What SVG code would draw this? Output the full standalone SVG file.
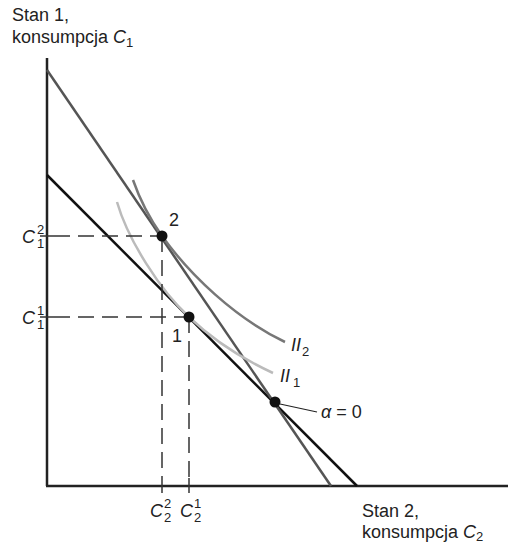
<svg xmlns="http://www.w3.org/2000/svg" width="508" height="544" viewBox="0 0 508 544">
<style>
text{font-family:"Liberation Sans",Arial,sans-serif;font-size:18px;fill:#222}
.it{font-style:italic}
.sm{font-size:13px}
.axis{stroke:#222;stroke-width:2.5;fill:none}
.dash{stroke:#333;stroke-width:1.5;stroke-dasharray:16 8;fill:none}
.tick{stroke:#333;stroke-width:1.5}
.dot{fill:#111}
</style>
<rect width="508" height="544" fill="#fff"/>
<g id="axes">
<line class="axis" x1="47" y1="58" x2="47" y2="486"/>
<line class="axis" x1="46" y1="486" x2="508" y2="486"/>
</g>
<g id="connectors">
<line x1="47" y1="175" x2="357" y2="486" stroke="#111" stroke-width="2.5"/>
<line x1="47" y1="70" x2="331" y2="486" stroke="#555" stroke-width="2.5"/>
<path d="M117,202 C128,240 160,290 189,317 C215,342 245,360 273,373" stroke="#bbb" stroke-width="2.5" fill="none"/>
<path d="M133,180 C140,200 152,222 162,236 C190,275 235,318 285,342" stroke="#777" stroke-width="2.5" fill="none"/>
<line class="dash" x1="54" y1="236" x2="162" y2="236"/>
<line class="dash" x1="54" y1="317" x2="189" y2="317"/>
<line class="dash" x1="162" y1="236" x2="162" y2="478"/>
<line class="dash" x1="189" y1="317" x2="189" y2="478"/>
<line class="tick" x1="40" y1="236" x2="54" y2="236"/>
<line class="tick" x1="40" y1="317" x2="54" y2="317"/>
<line class="tick" x1="162" y1="478" x2="162" y2="493"/>
<line class="tick" x1="189" y1="478" x2="189" y2="493"/>
<line x1="280" y1="404" x2="317" y2="412" stroke="#222" stroke-width="1.2"/>
</g>
<g id="point2"><circle class="dot" cx="162" cy="236" r="5.5"/><text x="169" y="226">2</text></g>
<g id="point1"><circle class="dot" cx="189" cy="317" r="5.5"/><text x="172" y="342">1</text></g>
<g id="point0"><circle class="dot" cx="275" cy="402" r="5.5"/><text x="321" y="418"><tspan class="it">α</tspan> = 0</text></g>
<g id="II2"><text x="291" y="351"><tspan class="it">II</tspan><tspan class="sm" dx="1" dy="5">2</tspan></text></g>
<g id="II1"><text x="280" y="382"><tspan class="it">II</tspan><tspan class="sm" dx="3" dy="5">1</tspan></text></g>
<g id="ylabel"><text x="12" y="21">Stan 1,</text><text x="12" y="43">konsumpcja <tspan class="it">C</tspan><tspan class="sm" dy="4">1</tspan></text></g>
<g id="xlabel"><text x="362" y="517">Stan 2,</text><text x="362" y="538">konsumpcja <tspan class="it">C</tspan><tspan class="sm" dy="3">2</tspan></text></g>
<g id="yticks">
<text x="22" y="243" class="it">C</text><text x="37" y="234" class="sm">2</text><text x="37" y="248" class="sm">1</text>
<text x="22" y="324" class="it">C</text><text x="37" y="315" class="sm">1</text><text x="37" y="329" class="sm">1</text>
</g>
<g id="xticks">
<text x="150" y="517" class="it">C</text><text x="164" y="508" class="sm">2</text><text x="164" y="522" class="sm">2</text>
<text x="180" y="517" class="it">C</text><text x="194" y="508" class="sm">1</text><text x="194" y="522" class="sm">2</text>
</g>
</svg>
